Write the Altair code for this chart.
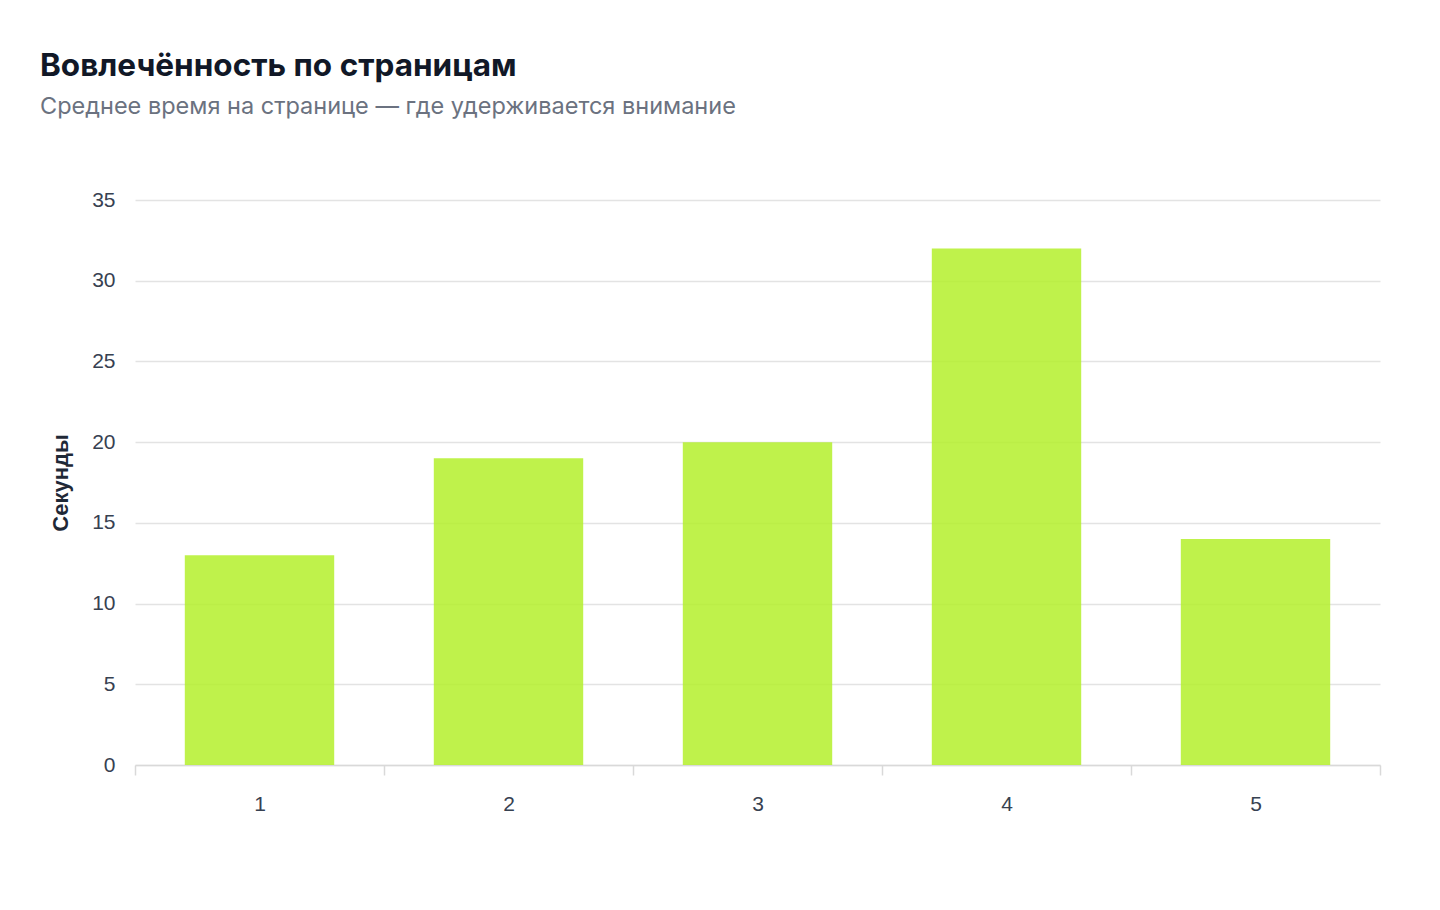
import altair as alt
import pandas as pd

pages = ["1", "2", "3", "4", "5"]
seconds = [13, 19, 20, 32, 14]

df = pd.DataFrame({"page": pages, "seconds": seconds})

bars = (
    alt.Chart(df)
    .mark_bar(color="#b4f02c", opacity=0.85, width=alt.RelativeBandSize(0.6))
    .encode(
        x=alt.X(
            "page:N",
            title=None,
            sort=pages,
            scale=alt.Scale(paddingInner=0, paddingOuter=0),
            axis=alt.Axis(
                labelAngle=0,
                labelFont="Liberation Sans",
                labelFontSize=21,
                labelColor="#374151",
                labelPadding=18,
                tickBand="extent",
                tickSize=10,
                tickColor="#d9d9d9",
                domainColor="#d9d9d9",
                domainWidth=1.5,
                tickWidth=1.5,
                grid=False,
            ),
        ),
        y=alt.Y(
            "seconds:Q",
            title="Секунды",
            scale=alt.Scale(domain=[0, 35]),
            axis=alt.Axis(
                values=[0, 5, 10, 15, 20, 25, 30, 35],
                labelFont="Liberation Sans",
                labelFontSize=21,
                labelColor="#374151",
                labelPadding=20,
                ticks=False,
                domain=False,
                gridColor="#e3e3e3",
                gridWidth=1.5,
                titleFont="Liberation Sans",
                titleFontSize=22,
                titleFontWeight="bold",
                titleColor="#1f2937",
                titlePadding=19,
            ),
        ),
        tooltip=[
            alt.Tooltip("page:N", title="Страница"),
            alt.Tooltip("seconds:Q", title="Секунды"),
        ],
    )
)

chart = (
    bars.properties(
        width=1245,
        height=565,
        autosize=alt.AutoSizeParams(type="none"),
        padding={"left": 127, "top": 192, "right": 52, "bottom": 120},
        title=alt.TitleParams(
            text="Вовлечённость по страницам",
            subtitle="Среднее время на странице — где удерживается внимание",
            anchor="start",
            frame="group",
            dx=-95,
            offset=71,
            font="Inter",
            fontSize=31.5,
            fontWeight="bold",
            color="#111827",
            subtitleFont="Inter",
            subtitleFontSize=23.5,
            subtitleColor="#6b7280",
            subtitlePadding=12,
        ),
    )
    .configure(background="white")
    .configure_view(stroke=None)
)

chart.save("out.html", embed_options={"renderer": "svg", "actions": False})
